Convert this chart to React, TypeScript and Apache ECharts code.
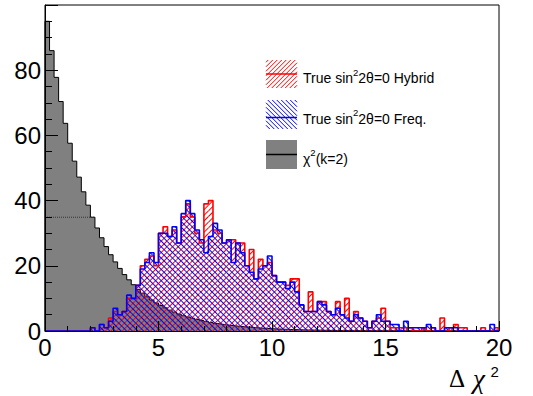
import React, { useEffect, useRef } from "react";
import * as echarts from "echarts";

// ---- data ----
const binWidth = 0.2;
const xTickLabels = [0, 5, 10, 15, 20];
const yTickLabels = [0, 20, 40, 60, 80];

const chi2Vals = [
  95.0, 86.0, 77.8, 70.4, 63.7, 57.6, 52.1, 47.2, 42.7, 38.6,
  34.9, 31.6, 28.6, 25.9, 23.4, 21.2, 19.2, 17.3, 15.7, 14.2,
  12.8, 11.6, 10.5, 9.5, 8.6, 7.8, 7.1, 6.4, 5.8, 5.2,
  4.7, 4.3, 3.9, 3.5, 3.2, 2.9, 2.6, 2.3, 2.1, 1.9,
  1.7, 1.6, 1.4, 1.3, 1.2, 1.1, 0.96, 0.87, 0.78, 0.71,
  0.64, 0.58, 0.53, 0.48, 0.43, 0.39, 0.35, 0.32, 0.29, 0.26,
  0.24, 0.21, 0.19, 0.17, 0.16, 0.14, 0.13, 0.12, 0.11, 0.1,
  0.087, 0.078, 0.07, 0.064, 0.058, 0.052, 0.047, 0.043, 0.039, 0.035,
  0.032, 0.029, 0.026, 0.023, 0.021, 0.019, 0.017, 0.016, 0.014, 0.013,
  0.012, 0.011, 0.0096, 0.0087, 0.0079, 0.0071, 0.0064, 0.0058, 0.0053, 0.0048,
];

const hybridVals = [
  0, 0, 0, 0, 0, 0, 0, 0, 0, 0,
  1, 0, 2, 1, 4, 6, 5, 6, 10, 10,
  14, 20, 22, 23, 20, 30, 32, 29, 31, 27,
  35, 39, 35, 30, 27, 39, 40, 31, 30, 27,
  28, 28, 27, 27, 20, 25, 16, 22, 20, 21,
  17, 15, 15, 14, 16, 16, 8, 6, 12, 6,
  9, 9, 6, 5, 9, 5, 10, 3, 6, 4,
  3, 1, 3, 4, 7, 3, 1, 1, 1, 1,
  1, 0, 0, 1, 0, 1, 0, 4, 0, 1,
  2, 1, 1, 0, 0, 0, 1, 0, 0, 1,
];

const freqVals = [
  0, 0, 0, 0, 0, 0, 0, 0, 0, 0,
  1, 0, 2, 1, 3, 7, 5, 6, 11, 10,
  14, 19, 21, 24, 21, 30, 30, 29, 32, 27,
  36, 40, 36, 31, 28, 24, 29, 33, 31, 27,
  28, 21, 27, 24, 20, 18, 16, 19, 20, 23,
  17, 15, 15, 13, 15, 12, 8, 6, 6, 6,
  9, 8, 6, 5, 7, 5, 4, 3, 5, 4,
  3, 1, 3, 5, 3, 3, 2, 2, 0, 3,
  1, 1, 1, 1, 2, 1, 0, 0, 1, 1,
  1, 0, 0, 0, 0, 0, 0, 0, 2, 0,
];

const binLabels = chi2Vals.map((_, i) => (i * binWidth).toFixed(1));

function stepPoints(vals: number[]) {
  const pts: number[][] = [[0, 0]];
  vals.forEach((v, i) => {
    const x0 = +(i * binWidth).toFixed(4);
    const x1 = +((i + 1) * binWidth).toFixed(4);
    pts.push([x0, v], [x1, v]);
  });
  pts.push([+(vals.length * binWidth).toFixed(4), 0]);
  return pts;
}

function hatch(x0: number, y0: number, w: number, h: number, s: number, dir: string, color: string) {
  const els: any[] = [];
  const x1 = x0 + w;
  const y1 = y0 + h;
  if (dir === "/") {
    for (let k = x0 + y0 + s / 2; k < x1 + y1; k += s) {
      const xs = Math.max(x0, k - y1);
      const xe = Math.min(x1, k - y0);
      if (xe > xs)
        els.push({ type: "line", silent: true, shape: { x1: xs, y1: k - xs, x2: xe, y2: k - xe }, style: { stroke: color, lineWidth: 1 } });
    }
  } else {
    for (let k = y0 - x1 + s / 2; k < y1 - x0; k += s) {
      const xs = Math.max(x0, y0 - k);
      const xe = Math.min(x1, y1 - k);
      if (xe > xs)
        els.push({ type: "line", silent: true, shape: { x1: xs, y1: xs + k, x2: xe, y2: xe + k }, style: { stroke: color, lineWidth: 1 } });
    }
  }
  return els;
}

const SANS = "'Liberation Sans', Arial, Helvetica, sans-serif";
const SERIF = "'Liberation Serif', 'Times New Roman', serif";

export default function App() {
  const ref = useRef<HTMLDivElement>(null);
  useEffect(() => {
    document.body.style.margin = "0";
    if (!ref.current) return;
    const chart = echarts.init(ref.current, undefined, { renderer: "svg" });

    const legendRich = {
      m: { fontSize: 14, fontFamily: SANS, lineHeight: 22, fill: "#000" },
      s: { fontSize: 9.5, fontFamily: SANS, lineHeight: 7, verticalAlign: "top", fill: "#000" },
    };

    const graphic: any[] = [
      // legend entry 1: hybrid
      ...hatch(266, 60, 31, 28, 4.5, "/", "#ff0000"),
      { type: "line", silent: true, shape: { x1: 266, y1: 74, x2: 297, y2: 74 }, style: { stroke: "#ff0000", lineWidth: 1.5 } },
      {
        type: "text", x: 303, y: 78, silent: true,
        style: { text: "{m|True sin}{s|2}{m|2θ=0 Hybrid}", rich: legendRich, align: "left", verticalAlign: "middle" },
      },
      // legend entry 2: freq
      ...hatch(266, 100, 31, 29, 4.5, "\\", "#0000ff"),
      { type: "line", silent: true, shape: { x1: 266, y1: 117.5, x2: 297, y2: 117.5 }, style: { stroke: "#0000ff", lineWidth: 1.5 } },
      {
        type: "text", x: 303, y: 118.5, silent: true,
        style: { text: "{m|True sin}{s|2}{m|2θ=0 Freq.}", rich: legendRich, align: "left", verticalAlign: "middle" },
      },
      // legend entry 3: chi2
      { type: "rect", silent: true, shape: { x: 266, y: 140, width: 31, height: 29 }, style: { fill: "#808080" } },
      { type: "line", silent: true, shape: { x1: 266, y1: 154.5, x2: 297, y2: 154.5 }, style: { stroke: "#000", lineWidth: 1.5 } },
      {
        type: "text", x: 303, y: 158.5, silent: true,
        style: { text: "{m|χ}{s|2}{m|(k=2)}", rich: legendRich, align: "left", verticalAlign: "middle" },
      },
      // axis title
      { type: "text", x: 449, y: 378.5, silent: true, style: { text: "Δ", fontSize: 25, fontFamily: SERIF, fill: "#000", align: "left", verticalAlign: "middle" } },
      { type: "text", x: 473, y: 378.5, silent: true, style: { text: "χ", fontSize: 27, fontStyle: "italic", fontFamily: SERIF, fill: "#000", align: "left", verticalAlign: "middle" } },
      { type: "text", x: 490.5, y: 371.5, silent: true, style: { text: "2", fontSize: 15, fontFamily: SANS, fill: "#000", align: "left", verticalAlign: "middle" } },
    ];

    const option: any = {
      animation: false,
      textStyle: { fontFamily: SANS },
      grid: { left: 45, right: 34, top: 5, bottom: 65, show: true, borderColor: "#000", borderWidth: 1, backgroundColor: "transparent" },
      xAxis: [
        { type: "category", data: binLabels, show: false, boundaryGap: true, position: "bottom" },
        {
          type: "value", min: 0, max: 20, interval: 5, position: "bottom", z: 10,
          axisLine: { show: true, onZero: false, lineStyle: { color: "#000", width: 1 } },
          axisTick: { show: true, inside: true, length: 10, lineStyle: { color: "#000", width: 1 } },
          minorTick: { show: true, splitNumber: 5, length: 5, lineStyle: { color: "#000", width: 1 } },
          splitLine: { show: false },
          minorSplitLine: { show: false },
          axisLabel: {
            show: true, margin: 4, fontSize: 24, color: "#000", fontFamily: SANS,
            formatter: (v: number) => (xTickLabels.includes(v) ? String(v) : ""),
          },
        },
      ],
      yAxis: [
        {
          type: "value", min: 0, max: 100, interval: 20, position: "left", z: 10,
          axisLine: { show: true, onZero: false, lineStyle: { color: "#000", width: 1 } },
          axisTick: { show: true, inside: true, length: 13, lineStyle: { color: "#000", width: 1 } },
          minorTick: { show: true, splitNumber: 4, length: 7, lineStyle: { color: "#000", width: 1 } },
          splitLine: { show: false },
          minorSplitLine: { show: false },
          axisLabel: {
            show: true, margin: 4, fontSize: 24, color: "#000", fontFamily: SANS, showMaxLabel: false,
            formatter: (v: number) => (yTickLabels.includes(v) ? String(v) : ""),
          },
        },
      ],
      series: [
        {
          name: "chi2", type: "line", xAxisIndex: 1, yAxisIndex: 0, data: stepPoints(chi2Vals),
          symbol: "none", silent: true, z: 2,
          lineStyle: { color: "#000", width: 1 },
          areaStyle: { color: "#808080", opacity: 1 },
        },
        {
          name: "chi2ref", type: "line", xAxisIndex: 1, yAxisIndex: 0,
          data: [[0, chi2Vals[10]], [11 * binWidth, chi2Vals[10]]],
          symbol: "none", silent: true, z: 3,
          lineStyle: { color: "#333", width: 1, type: "dotted" },
        },
        {
          name: "hybrid", type: "bar", xAxisIndex: 0, yAxisIndex: 0, data: hybridVals,
          barWidth: "100%", barGap: "-100%", barCategoryGap: 0, silent: true, z: 4,
          itemStyle: {
            color: "rgba(255,255,255,0)",
            decal: { symbol: "rect", symbolSize: 1, dashArrayX: [1, 0], dashArrayY: [1, 3], rotation: -Math.PI / 4, color: "#ff0000" },
          },
        },
        {
          name: "freq", type: "bar", xAxisIndex: 0, yAxisIndex: 0, data: freqVals,
          barWidth: "100%", barGap: "-100%", barCategoryGap: 0, silent: true, z: 4,
          itemStyle: {
            color: "rgba(255,255,255,0)",
            decal: { symbol: "rect", symbolSize: 1, dashArrayX: [1, 0], dashArrayY: [1, 3], rotation: Math.PI / 4, color: "#0000ff" },
          },
        },
        {
          name: "hybridLine", type: "line", xAxisIndex: 1, yAxisIndex: 0, data: stepPoints(hybridVals),
          symbol: "none", silent: true, z: 5,
          lineStyle: { color: "#ff0000", width: 1.6 },
        },
        {
          name: "freqLine", type: "line", xAxisIndex: 1, yAxisIndex: 0, data: stepPoints(freqVals),
          symbol: "none", silent: true, z: 6,
          lineStyle: { color: "#0000ff", width: 1.6 },
        },
      ],
      graphic,
    };

    chart.setOption(option);
    return () => chart.dispose();
  }, []);

  return <div ref={ref} style={{ width: 533, height: 396, background: "#fff" }} />;
}
